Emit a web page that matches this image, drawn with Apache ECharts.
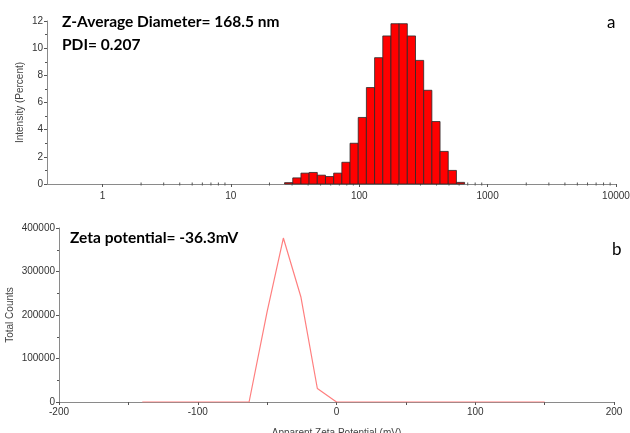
<!DOCTYPE html>
<html>
<head>
<meta charset="utf-8">
<script src="https://cdn.jsdelivr.net/npm/echarts@6/dist/echarts.min.js"></script>
<style>
  html, body { margin: 0; padding: 0; background: #fff; }
  #chart { width: 630px; height: 433px; }
</style>
</head>
<body>
<div id="chart"></div>
<script>
// size distribution (a): bin centres in nm and intensity in %
const sizeNm = [28.21, 32.67, 37.84, 43.82, 50.75, 58.77, 68.06, 78.82, 91.28, 105.7, 122.4,
  141.8, 164.2, 190.1, 220.2, 255.0, 295.3, 342.0, 396.1, 458.7, 531.2, 615.1];
const intensityPct = [0.1, 0.45, 0.8, 0.85, 0.65, 0.55, 0.8, 1.6, 3.0, 4.9, 7.1,
  9.3, 10.9, 11.8, 11.8, 10.9, 9.1, 6.9, 4.6, 2.4, 1.0, 0.12];
const binRatio = 1.158; // ratio between neighbouring bins

// zeta potential distribution (b)
const zetaMv = [-140, -63, -50, -38.3, -25.7, -13.8, 0, 150];
const zetaCounts = [0, 0, 208000, 377000, 242000, 31000, 0, 0];

// tick labels
const sizeTicks = [1, 10, 100, 1000, 10000];
const intensityTicks = [0, 2, 4, 6, 8, 10, 12];
const zetaTicks = [-200, -100, 0, 100, 200];
const countTicks = [0, 100000, 200000, 300000, 400000];

// log minor ticks 2..9 in every decade
const minorSizeTicks = [];
for (let d = 1; d < 10000; d *= 10) {
  for (let m = 2; m <= 9; m++) minorSizeTicks.push([m * d, 0]);
}

const chart = echarts.init(document.getElementById('chart'));

const axisGray = '#8a8a8a';
const labelStyle = { color: '#333', fontSize: 10, fontFamily: 'Liberation Sans, Arial, sans-serif' };
const nameStyle = { color: '#444', fontSize: 10, fontFamily: 'Liberation Sans, Arial, sans-serif' };
const calibri = 'Lato, "Open Sans", sans-serif';

const sqrtR = Math.sqrt(binRatio);
const barData = sizeNm.map((s, i) => [s / sqrtR, s * sqrtR, intensityPct[i]]);

const option = {
  animation: false,
  backgroundColor: '#fff',
  grid: [
    { left: 47, right: 14, top: 21, height: 163, containLabel: false, outerBoundsMode: 'none' },
    { left: 59, right: 16, top: 228, height: 174, containLabel: false, outerBoundsMode: 'none' }
  ],
  xAxis: [
    {
      gridIndex: 0, type: 'log', logBase: 10, min: 0.37, max: 10000,
      axisLine: { onZero: false, lineStyle: { color: axisGray, width: 1 } },
      axisTick: { length: 3, inside: false, lineStyle: { color: '#555' } },
      splitLine: { show: false },
      axisLabel: Object.assign({}, labelStyle, {
        margin: 7, showMinLabel: false,
        formatter: v => (sizeTicks.indexOf(Math.round(v)) >= 0 && Math.abs(v - Math.round(v)) < 1e-6 ? String(Math.round(v)) : '')
      })
    },
    {
      gridIndex: 1, type: 'value', min: zetaTicks[0], max: zetaTicks[zetaTicks.length - 1], interval: 100,
      name: 'Apparent Zeta Potential (mV)', nameLocation: 'middle', nameGap: 26, nameMoveOverlap: false,
      nameTextStyle: nameStyle,
      axisLine: { onZero: false, lineStyle: { color: axisGray } },
      axisTick: { length: 3, lineStyle: { color: '#555' } },
      minorTick: { show: true, splitNumber: 2, length: 3, lineStyle: { color: '#555' } },
      splitLine: { show: false },
      axisLabel: Object.assign({}, labelStyle, { margin: 5, formatter: v => String(v) })
    }
  ],
  yAxis: [
    {
      gridIndex: 0, type: 'value', min: intensityTicks[0], max: intensityTicks[intensityTicks.length - 1], interval: 2,
      name: 'Intensity (Percent)', nameLocation: 'middle', nameGap: 22, nameMoveOverlap: false,
      nameTextStyle: nameStyle,
      axisLine: { show: true, onZero: false, lineStyle: { color: axisGray } },
      axisTick: { show: true, length: 3, lineStyle: { color: '#555' } },
      minorTick: { show: true, splitNumber: 2, length: 2, lineStyle: { color: '#555' } },
      splitLine: { show: false },
      axisLabel: Object.assign({}, labelStyle, { margin: 4, formatter: v => String(v) })
    },
    {
      gridIndex: 1, type: 'value', min: countTicks[0], max: countTicks[countTicks.length - 1], interval: 100000,
      name: 'Total Counts', nameLocation: 'middle', nameGap: 44, nameMoveOverlap: false,
      nameTextStyle: nameStyle,
      axisLine: { show: true, onZero: false, lineStyle: { color: axisGray } },
      axisTick: { show: true, length: 3, lineStyle: { color: '#555' } },
      minorTick: { show: true, splitNumber: 2, length: 2, lineStyle: { color: '#555' } },
      splitLine: { show: false },
      axisLabel: Object.assign({}, labelStyle, { margin: 4, formatter: v => String(v) })
    }
  ],
  series: [
    {
      // histogram bars on the log axis
      type: 'custom', xAxisIndex: 0, yAxisIndex: 0, silent: true,
      data: barData,
      encode: { x: [0, 1], y: 2 },
      renderItem: function (params, api) {
        const p0 = api.coord([api.value(0), api.value(2)]);
        const p1 = api.coord([api.value(1), 0]);
        return {
          type: 'rect',
          shape: { x: p0[0], y: p0[1], width: p1[0] - p0[0], height: p1[1] - p0[1] },
          style: { fill: '#ff0000', stroke: '#2a2a2a', lineWidth: 0.8 }
        };
      }
    },
    {
      // minor log ticks on the size axis
      type: 'custom', xAxisIndex: 0, yAxisIndex: 0, silent: true, z: 1,
      data: minorSizeTicks,
      renderItem: function (params, api) {
        const p = api.coord([api.value(0), 0]);
        return {
          type: 'line',
          shape: { x1: p[0], y1: p[1] - 1.5, x2: p[0], y2: p[1] + 1.5 },
          style: { stroke: '#555', lineWidth: 1 }
        };
      }
    },
    {
      type: 'line', xAxisIndex: 1, yAxisIndex: 1, silent: true, z: 3,
      data: zetaMv.map((v, i) => [v, zetaCounts[i]]),
      symbol: 'none',
      lineStyle: { color: '#ff7f7f', width: 1.2 }
    }
  ],
  graphic: [
    { type: 'text', left: 62, top: 14, style: { text: 'Z-Average Diameter= 168.5 nm', font: 'bold 15.5px ' + calibri, fill: '#000' } },
    { type: 'text', left: 62, top: 37, style: { text: 'PDI= 0.207', font: 'bold 15.5px ' + calibri, fill: '#000' } },
    { type: 'text', left: 607, top: 14, style: { text: 'a', font: '17px ' + calibri, fill: '#000' } },
    { type: 'text', left: 70, top: 230, style: { text: 'Zeta potential= -36.3mV', font: 'bold 15.5px ' + calibri, fill: '#000' } },
    { type: 'text', left: 612, top: 241, style: { text: 'b', font: '17px ' + calibri, fill: '#000' } }
  ]
};

option && chart.setOption(option);
</script>
</body>
</html>
